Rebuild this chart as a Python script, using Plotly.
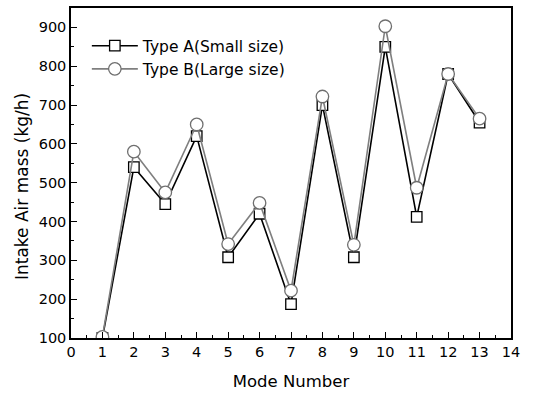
import plotly.graph_objects as go

modes = [1, 2, 3, 4, 5, 6, 7, 8, 9, 10, 11, 12, 13]
type_a = [100, 540, 445, 620, 308, 420, 187, 700, 308, 850, 412, 780, 655]
type_b = [103, 580, 475, 650, 342, 448, 222, 722, 340, 903, 487, 780, 665]
name_a = "Type A(Small size)"
name_b = "Type B(Large size)"
x_title = "Mode Number"
y_title = "Intake Air mass (kg/h)"

font = "DejaVu Sans"

fig = go.Figure()
fig.add_trace(go.Scatter(
    x=modes, y=type_a, name=name_a, mode="lines+markers",
    line=dict(color="black", width=1.6),
    marker=dict(symbol="square", size=10.5, color="white", line=dict(color="black", width=1.3)),
))
fig.add_trace(go.Scatter(
    x=modes, y=type_b, name=name_b, mode="lines+markers",
    line=dict(color="#7f7f7f", width=1.6),
    marker=dict(symbol="circle", size=12.5, color="white", line=dict(color="#6f6f6f", width=1.3)),
))

fig.update_layout(
    width=548, height=397,
    margin=dict(l=71, r=37, t=6, b=59),
    paper_bgcolor="white", plot_bgcolor="white",
    font=dict(family=font, color="black", size=14),
    showlegend=True,
    legend=dict(x=0.036, y=0.936, xanchor="left", yanchor="top",
                bgcolor="rgba(0,0,0,0)", font=dict(size=15.5, family=font),
                tracegroupgap=0, itemwidth=46),
    xaxis=dict(
        range=[0, 14], tickmode="linear", tick0=0, dtick=1,
        ticks="inside", ticklen=6, tickwidth=1.2, tickcolor="black",
        minor=dict(ticks="inside", ticklen=3, dtick=0.5, tickcolor="black"),
        showline=True, linecolor="black", linewidth=1.5, mirror=True,
        showgrid=False, zeroline=False,
        title=dict(text=x_title, font=dict(size=16.5, family=font), standoff=16),
        tickfont=dict(size=14.5),
    ),
    yaxis=dict(
        range=[100, 950], tickmode="linear", tick0=100, dtick=100,
        ticks="inside", ticklen=6, tickwidth=1.2, tickcolor="black",
        minor=dict(ticks="inside", ticklen=3, dtick=50, tickcolor="black"),
        showline=True, linecolor="black", linewidth=1.5, mirror=True,
        showgrid=False, zeroline=False,
        tickfont=dict(size=14.5),
    ),
    annotations=[dict(
        text=y_title, xref="paper", yref="paper", x=-0.111, y=0.458,
        xanchor="center", yanchor="middle", textangle=-90, showarrow=False,
        font=dict(size=17, family=font, color="black"),
    )],
)

fig.write_html("out.html")
